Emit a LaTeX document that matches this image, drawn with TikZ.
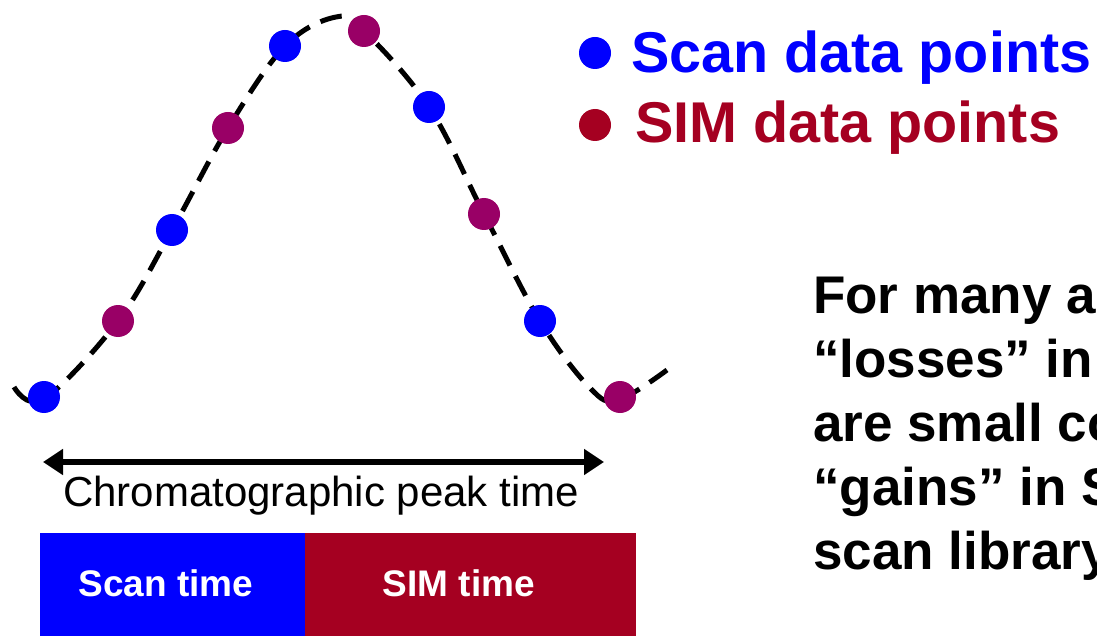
\documentclass[tikz,border=0pt]{standalone}
\usepackage{fontspec}
\setmainfont{Liberation Sans}
\usetikzlibrary{arrows.meta}
\definecolor{scanblue}{HTML}{0000FF}
\definecolor{simpurple}{HTML}{990066}
\definecolor{simred}{HTML}{A50021}
\tikzset{
  dot/.style={circle, fill=#1, minimum size=32pt, inner sep=0pt},
  peakline/.style={line width=5pt, dash pattern=on 22pt off 12pt},
  legend/.style={anchor=base west, inner sep=0pt, font=\fontsize{57.5}{68}\selectfont\bfseries},
  body/.style={anchor=base west, inner sep=0pt, font=\fontsize{53}{64}\selectfont\bfseries},
  barlabel/.style={anchor=base, inner sep=0pt, text=white, font=\fontsize{37}{44}\selectfont\bfseries},
  span/.style={line width=6pt, {Triangle[length=20pt,width=25pt]}-{Triangle[length=20pt,width=25pt]}}
}
\begin{document}
\begin{tikzpicture}[x=1pt, y=-1pt]
\useasboundingbox (0,0) rectangle (1097,636);
\clip (0,0) rectangle (1097,636);

% dashed chromatographic peak
\draw[peakline] plot[smooth, tension=0.6] coordinates {
  (14,387) (44,399) (118,321) (172,230) (228,128) (285,46) (336,17)
  (364,31) (429,107) (484,214) (540,321) (590,388) (618,400) (667,370)};

% sampled points along the peak
\node[dot=scanblue]  (b1) at (44,397)  {};
\node[dot=simpurple] (p1) at (118,321) {};
\node[dot=scanblue]  (b2) at (172,230) {};
\node[dot=simpurple] (p2) at (228,128) {};
\node[dot=scanblue]  (b3) at (285,46)  {};
\node[dot=simpurple] (p3) at (364,31)  {};
\node[dot=scanblue]  (b4) at (429,107) {};
\node[dot=simpurple] (p4) at (484,214) {};
\node[dot=scanblue]  (b5) at (540,321) {};
\node[dot=simpurple] (p5) at (620,397) {};

% legend
\node[dot=scanblue] (lb) at (595,53)  {};
\node[dot=simred]   (lr) at (595,125) {};
\node[legend, text=scanblue] (lbt) at (631,73)  {Scan data points};
\node[legend, text=simred]   (lrt) at (635,143) {SIM data points};

% peak width arrow
\coordinate (aL) at (43,462);
\coordinate (aR) at (604,462);
\draw[span] (aL) -- (aR);
\node[anchor=base, inner sep=0pt, font=\fontsize{42}{50}\selectfont] (ptime) at (321,506) {Chromatographic peak time};

% duty-cycle bar
\fill[scanblue] (40,533) rectangle (305,640);
\fill[simred] (305,533) rectangle (636,640);
\node[barlabel] (scant) at (166,596) {Scan time};
\node[barlabel] (simt) at (459,596) {SIM time};

% explanatory text
\node[body] (t1) at (813,313) {For many a};
\node[body] (t2) at (813,377) {“losses” in};
\node[body] (t3) at (813,441) {are small co};
\node[body] (t4) at (813,505) {“gains” in S};
\node[body] (t5) at (813,569) {scan library};
\end{tikzpicture}
\end{document}
